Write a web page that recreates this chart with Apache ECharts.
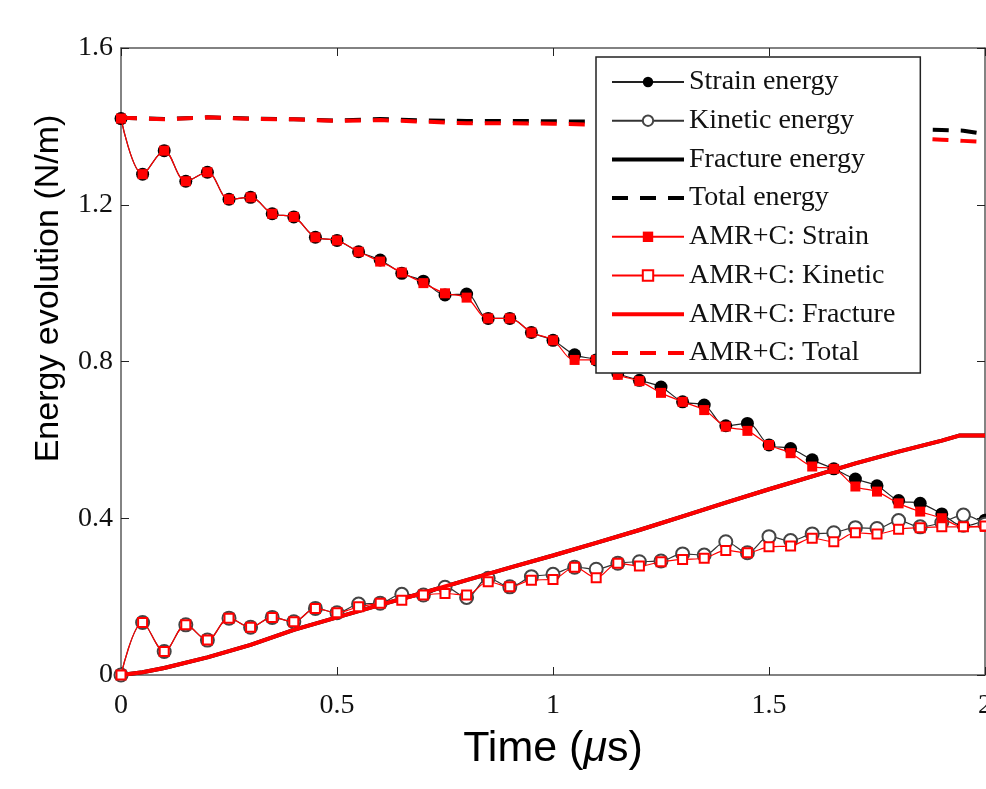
<!DOCTYPE html>
<html>
<head>
<meta charset="utf-8">
<script src="https://cdn.jsdelivr.net/npm/echarts@6/dist/echarts.min.js"></script>
<style>
html,body{margin:0;padding:0;background:#fff;overflow:hidden;}
#chart{width:986px;height:789px;}
</style>
</head>
<body>
<div id="chart"></div>
<script>
// ---- Data ----
var timeMarks = [0,0.05,0.1,0.15,0.2,0.25,0.3,0.35,0.4,0.45,0.5,0.55,0.6,0.65,0.7,0.75,0.8,0.85,0.9,0.95,1.0,1.05,1.1,1.15,1.2,1.25,1.3,1.35,1.4,1.45,1.5,1.55,1.6,1.65,1.7,1.75,1.8,1.85,1.9,1.95,2.0];
var strainEnergy = [1.420,1.278,1.338,1.260,1.283,1.214,1.219,1.177,1.169,1.117,1.109,1.080,1.059,1.025,1.005,0.970,0.972,0.910,0.910,0.874,0.854,0.817,0.804,0.770,0.752,0.735,0.697,0.689,0.636,0.642,0.587,0.578,0.549,0.526,0.500,0.483,0.445,0.438,0.411,0.380,0.395];
var kineticEnergy = [0,0.134,0.060,0.128,0.089,0.145,0.122,0.147,0.136,0.170,0.159,0.181,0.183,0.206,0.204,0.224,0.198,0.247,0.225,0.251,0.257,0.275,0.270,0.285,0.289,0.291,0.309,0.306,0.340,0.312,0.353,0.343,0.360,0.363,0.376,0.374,0.394,0.378,0.389,0.408,0.385];
var amrStrain = [1.420,1.278,1.338,1.260,1.283,1.214,1.219,1.177,1.169,1.117,1.109,1.080,1.055,1.027,1.000,0.974,0.963,0.910,0.910,0.874,0.854,0.804,0.804,0.766,0.750,0.720,0.697,0.676,0.634,0.623,0.587,0.566,0.532,0.526,0.481,0.468,0.438,0.417,0.400,0.378,0.378];
var amrKinetic = [0,0.134,0.060,0.128,0.089,0.145,0.122,0.147,0.136,0.170,0.159,0.174,0.183,0.191,0.204,0.208,0.204,0.238,0.225,0.242,0.244,0.275,0.248,0.285,0.278,0.289,0.295,0.298,0.318,0.312,0.327,0.329,0.349,0.340,0.363,0.360,0.372,0.376,0.378,0.378,0.380];

var fractureTime = [0,0.05,0.1,0.2,0.3,0.4,0.5,0.6,0.7,0.8,0.9,1.0,1.1,1.2,1.3,1.4,1.5,1.6,1.7,1.8,1.9,1.94,2.0];
var fractureEnergy = [0,0.007,0.018,0.045,0.077,0.115,0.147,0.179,0.210,0.242,0.274,0.305,0.337,0.370,0.405,0.440,0.474,0.507,0.540,0.570,0.598,0.611,0.611];
var amrFracture = [0,0.007,0.018,0.045,0.077,0.115,0.147,0.179,0.210,0.242,0.274,0.305,0.337,0.370,0.405,0.440,0.474,0.507,0.540,0.570,0.598,0.611,0.611];

var totalTime = [0,0.1,0.2,0.3,0.4,0.5,0.6,0.7,0.8,0.9,1.0,1.1,1.2,1.3,1.4,1.5,1.6,1.7,1.8,1.85,1.9,1.95,2.0];
var totalEnergy = [1.422,1.419,1.423,1.420,1.418,1.415,1.419,1.415,1.414,1.414,1.413,1.412,1.410,1.407,1.404,1.402,1.399,1.396,1.394,1.392,1.391,1.389,1.380];
var amrTotal = [1.422,1.418,1.423,1.419,1.418,1.414,1.416,1.412,1.408,1.408,1.407,1.404,1.398,1.394,1.390,1.386,1.382,1.378,1.372,1.369,1.366,1.363,1.360];

var xTicks = [0,0.5,1,1.5,2];
var yTicks = [0,0.4,0.8,1.2,1.6];
var seriesNames = ['Strain energy','Kinetic energy','Fracture energy','Total energy','AMR+C: Strain','AMR+C: Kinetic','AMR+C: Fracture','AMR+C: Total'];

function pairs(xs, ys){ return xs.map(function(x,i){ return [x, ys[i]]; }); }

var serif = '"Liberation Serif", "Times New Roman", serif';
var sans = '"Liberation Sans", Arial, sans-serif';
var axisColor = '#5a5a5a';

var chart = echarts.init(document.getElementById('chart'), null, {renderer:'canvas'});
var option = {
  animation: false,
  backgroundColor: '#fff',
  grid: {left:121, right:1, top:48, bottom:114, containLabel:false, outerBoundsMode:'none'},
  legend: {
    orient: 'vertical',
    left: 596, top: 57,
    itemWidth: 72, itemHeight: 13, itemGap: 10.7,
    padding: [11, 25, 6, 14],
    backgroundColor: '#fff',
    borderColor: '#222', borderWidth: 1.5,
    selectedMode: false,
    textStyle: {fontFamily: serif, fontSize: 28, color: '#111', lineHeight: 28},
    z: 20,
    data: [
      {name: seriesNames[0]},
      {name: seriesNames[1]},
      {name: seriesNames[2], itemStyle:{opacity:0}, lineStyle:{width:4}},
      {name: seriesNames[3], itemStyle:{opacity:0}, lineStyle:{width:4}},
      {name: seriesNames[4]},
      {name: seriesNames[5]},
      {name: seriesNames[6], itemStyle:{opacity:0}, lineStyle:{width:4}},
      {name: seriesNames[7], itemStyle:{opacity:0}, lineStyle:{width:4}}
    ]
  },
  xAxis: [{
    type:'value', min:xTicks[0], max:xTicks[xTicks.length-1], interval:0.5,
    position:'bottom',
    axisLine:{show:true, onZero:false, lineStyle:{color:axisColor, width:1.5}},
    axisTick:{show:true, inside:true, length:8, lineStyle:{color:'#222', width:1}},
    splitLine:{show:false},
    axisLabel:{fontFamily:serif, fontSize:28, color:'#111', margin:17},
    name:'Time ({i|\u03bc}s)', nameLocation:'middle', nameGap:53,
    nameTextStyle:{fontFamily:sans, fontSize:43, color:'#000', rich:{i:{fontFamily:sans, fontSize:43, fontStyle:'italic', color:'#000'}}}
  },{
    type:'value', min:xTicks[0], max:xTicks[xTicks.length-1], interval:0.5,
    position:'top',
    axisLine:{show:true, onZero:false, lineStyle:{color:axisColor, width:1.5}},
    axisTick:{show:true, inside:true, length:8, lineStyle:{color:'#222', width:1}},
    axisLabel:{show:false}, splitLine:{show:false}
  }],
  yAxis: [{
    type:'value', min:yTicks[0], max:yTicks[yTicks.length-1], interval:0.4,
    position:'left',
    axisLine:{show:true, onZero:false, lineStyle:{color:axisColor, width:1.5}},
    axisTick:{show:true, inside:true, length:8, lineStyle:{color:'#222', width:1}},
    splitLine:{show:false},
    axisLabel:{fontFamily:serif, fontSize:28, color:'#111', margin:8},
    name:'Energy evolution (N/m)', nameLocation:'middle', nameGap:55, nameRotate:90,
    nameTextStyle:{fontFamily:sans, fontSize:34, color:'#000', padding:[0,0,0,146]}
  },{
    type:'value', min:yTicks[0], max:yTicks[yTicks.length-1], interval:0.4,
    position:'right',
    axisLine:{show:true, onZero:false, lineStyle:{color:axisColor, width:1.5}},
    axisTick:{show:true, inside:true, length:8, lineStyle:{color:'#222', width:1}},
    axisLabel:{show:false}, splitLine:{show:false}
  }],
  series: [
    {name:seriesNames[0], type:'line', data:pairs(timeMarks, strainEnergy), smooth:0.35,
     symbol:'circle', symbolSize:13, itemStyle:{color:'#000'}, lineStyle:{color:'#222', width:1.2}, z:2},
    {name:seriesNames[1], type:'line', data:pairs(timeMarks, kineticEnergy), smooth:0.35,
     symbol:'emptyCircle', symbolSize:13, itemStyle:{color:'#444', borderColor:'#444', borderWidth:1}, lineStyle:{color:'#333', width:1.2}, z:2},
    {name:seriesNames[2], type:'line', data:pairs(fractureTime, fractureEnergy),
     symbol:'none', itemStyle:{color:'#000'}, lineStyle:{color:'#000', width:4}, z:2},
    {name:seriesNames[3], type:'line', data:pairs(totalTime, totalEnergy),
     symbol:'none', itemStyle:{color:'#000'}, lineStyle:{color:'#000', width:4, type:[16,12]}, z:2},
    {name:seriesNames[4], type:'line', data:pairs(timeMarks, amrStrain), smooth:0.35,
     symbol:'rect', symbolSize:10, itemStyle:{color:'#ff0000'}, lineStyle:{color:'#ff0000', width:1.2}, z:3},
    {name:seriesNames[5], type:'line', data:pairs(timeMarks, amrKinetic), smooth:0.35,
     symbol:'emptyRect', symbolSize:9, itemStyle:{color:'#ff0000', borderColor:'#ff0000', borderWidth:1.2}, lineStyle:{color:'#ff0000', width:1.2}, z:3},
    {name:seriesNames[6], type:'line', data:pairs(fractureTime, amrFracture),
     symbol:'none', itemStyle:{color:'#ff0000'}, lineStyle:{color:'#ff0000', width:4}, z:3},
    {name:seriesNames[7], type:'line', data:pairs(totalTime, amrTotal),
     symbol:'none', itemStyle:{color:'#ff0000'}, lineStyle:{color:'#ff0000', width:4, type:[16,12]}, z:3}
  ]
};
chart.setOption(option);
</script>
</body>
</html>
